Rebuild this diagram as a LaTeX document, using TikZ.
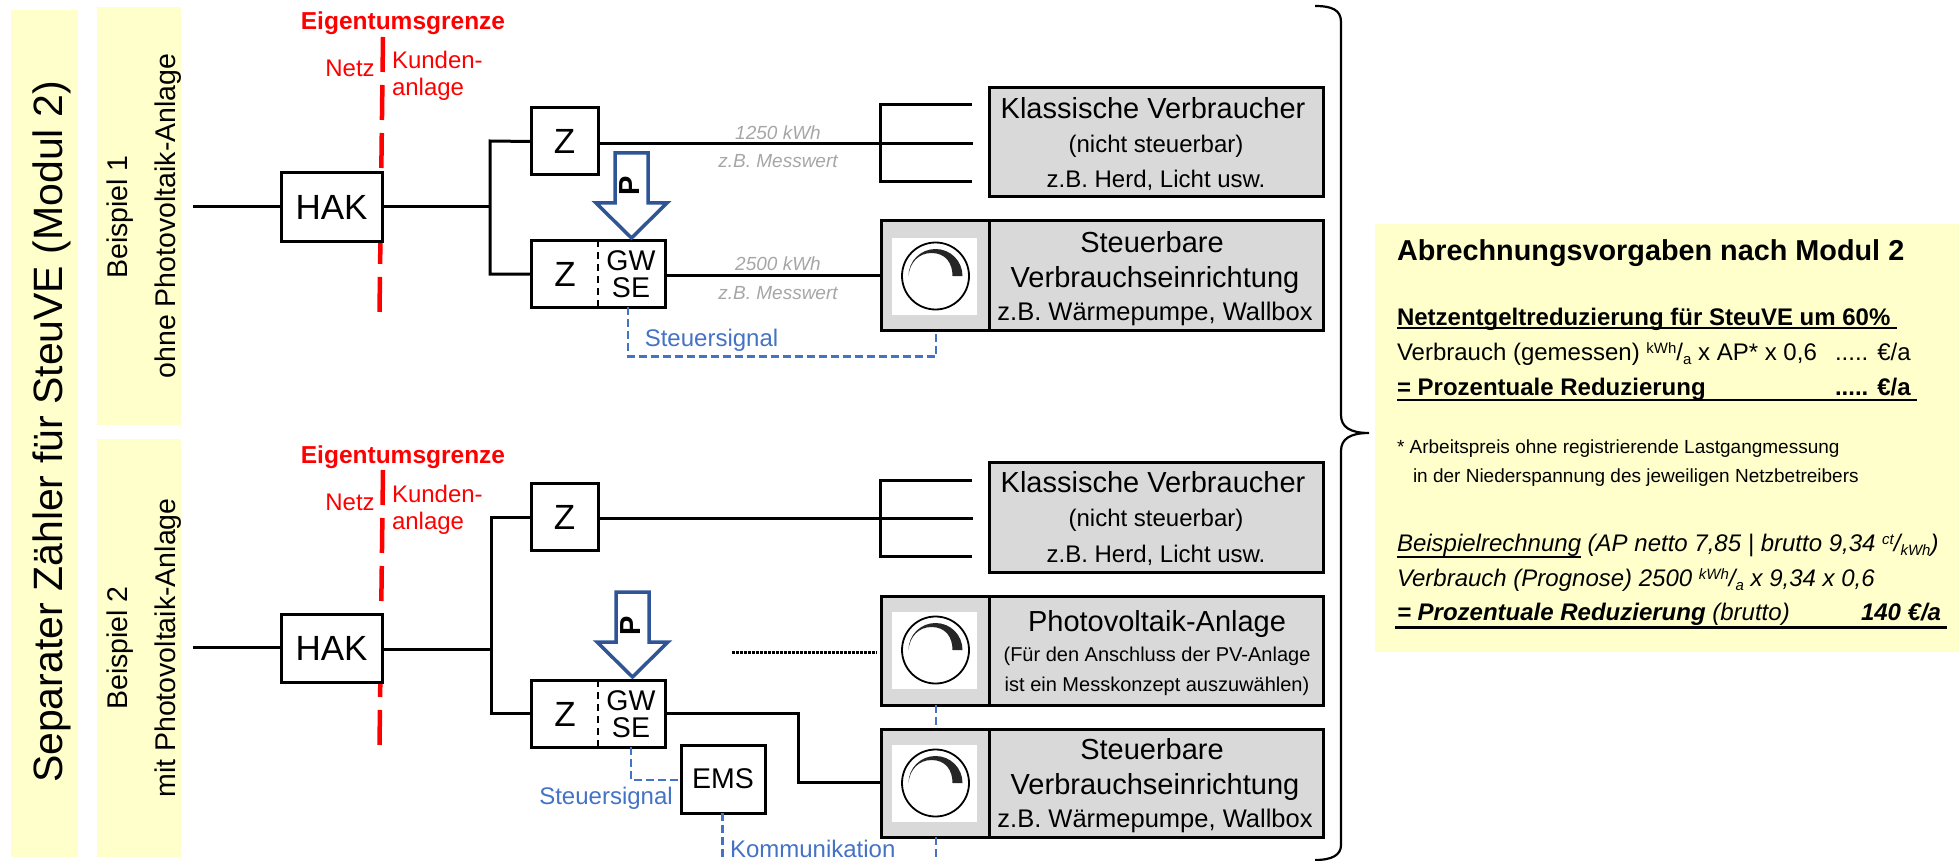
\documentclass[tikz,border=0pt]{standalone}
\usepackage{fontspec}
\setmainfont{Liberation Sans}
\usetikzlibrary{calc}
\definecolor{bandyellow}{HTML}{FFFFCC}
\definecolor{boxgray}{HTML}{D9D9D9}
\definecolor{sigblue}{HTML}{4472C4}
\definecolor{arrowblue}{HTML}{2F5597}
\definecolor{labelgray}{HTML}{A6A6A6}
\definecolor{gridred}{HTML}{FF0000}
\newcommand{\fsz}[1]{\fontsize{#1}{#1}\selectfont}
\newcommand{\ufrac}[2]{\raisebox{6.5pt}{\fsz{15}#1}/\raisebox{-4pt}{\fsz{15}#2}}
\newcommand{\knobsym}[2]{%
  \begin{scope}[shift={(#1,#2)}]
    \draw[black,line width=1.8pt] (0,0) circle[radius=33.5pt];
    \fill[black!85] (-27,0) .. controls (-27,-15) and (-15,-27) .. (0,-27) .. controls (15,-27) and (27,-15) .. (27,0) -- (17,0) .. controls (17,-13) and (10,-23) .. (-4,-23) .. controls (-17,-23) and (-26,-13) .. (-27,0) -- cycle;
  \end{scope}}
\tikzset{
  band/.style={draw=none,fill=bandyellow,inner sep=0pt,outer sep=0pt},
  wire/.style={draw=black,line width=3pt},
  sbox/.style={draw=black,fill=white,line width=3pt,inner sep=0pt,outer sep=0pt,font=\fsz{35}},
  graybox/.style={draw=black,fill=boxgray,line width=3pt,inner sep=0pt,outer sep=0pt},
  vs/.style={yshift={(-0.35*#1)*1pt}},
  fn/.style={font=\fsz{#1},vs=#1},
  fb/.style={font=\fsz{#1}\bfseries,vs=#1},
  fi/.style={font=\fsz{#1}\itshape,vs=#1},
  fbi/.style={font=\fsz{#1}\itshape\bfseries,vs=#1},
  txt/.style={inner sep=0pt,outer sep=0pt,anchor=base},
  txtl/.style={inner sep=0pt,outer sep=0pt,anchor=base west},
  vert/.style={inner sep=0pt,outer sep=0pt,rotate=90,anchor=base},
  redt/.style={text=gridred},
  redline/.style={draw=gridred,line width=4.5pt,dash pattern=on 35pt off 13pt},
  sig/.style={draw=sigblue,line width=2.5pt,dash pattern=on 8pt off 4pt},
  sigtext/.style={text=sigblue,fn=24},
  graytext/.style={txt,text=labelgray,fi=19},
  parrow/.style={draw=arrowblue,fill=white,line width=3.5pt,miter limit=10},
}
\begin{document}
\begin{tikzpicture}[x=1pt,y=-1pt]
\useasboundingbox (0,0) rectangle (1959,861);
% bands
\node[band,minimum width=67pt,minimum height=847pt] (bandL) at (44.5,433.5) {};
\node[band,minimum width=84pt,minimum height=418pt] (bandA) at (139,216) {};
\node[band,minimum width=84pt,minimum height=418pt] (bandB) at (139,648) {};
\node[band,minimum width=584pt,minimum height=428pt] (bandR) at (1667,438) {};
\node[vert,font=\fsz{41}] (title) at (62.5,432) {Separater Zähler für SteuVE (Modul 2)};
\node[vert,font=\fsz{28.5}] (b1a) at (127,217) {Beispiel 1};
\node[vert,font=\fsz{28.5}] (b1b) at (175,216) {ohne Photovoltaik-Anlage};
\node[vert,font=\fsz{28.5}] (b2a) at (127,648) {Beispiel 2};
\node[vert,font=\fsz{28.5}] (b2b) at (175,648) {mit Photovoltaik-Anlage};
% property borders
\coordinate (r1t) at (383,37); \coordinate (r1b) at (379.5,313);
\coordinate (r2t) at (383,470); \coordinate (r2b) at (379.5,746);
\draw[redline] (r1t) -- (r1b);
\draw[redline] (r2t) -- (r2b);
\node[txt,redt,fb=24.5] (eg1) at (403,21) {Eigentumsgrenze};
\node[txt,redt,fb=24.5] (eg2) at (403,455) {Eigentumsgrenze};
\node[txt,redt,fn=24] (nz1) at (350,68) {Netz};
\node[txtl,redt,fn=24] (ku1) at (392,60) {Kunden-};
\node[txtl,redt,fn=24] (an1) at (392,87) {anlage};
\node[txt,redt,fn=24] (nz2) at (350,502) {Netz};
\node[txtl,redt,fn=24] (ku2) at (392,494) {Kunden-};
\node[txtl,redt,fn=24] (an2) at (392,521) {anlage};
% boxes example 1
\node[sbox,minimum width=101pt,minimum height=68pt] (hak1) at (331.5,207) {HAK};
\node[sbox,minimum width=67pt,minimum height=67pt] (z1) at (564.5,141.5) {Z};
\node[sbox,minimum width=134pt,minimum height=67pt] (zg1) at (598,273.5) {};
\node[txt,fn=35] (z1t) at (565,274) {Z};
\node[txt,fn=28.5] (gw1) at (631,261) {GW};
\node[txt,fn=28.5] (se1) at (631,288) {SE};
\draw[black,line width=2.5pt,dash pattern=on 7pt off 5pt] (zg1.north) -- (zg1.south);
% boxes example 2
\node[sbox,minimum width=101pt,minimum height=68pt] (hak2) at (331.5,648) {HAK};
\node[sbox,minimum width=67pt,minimum height=67pt] (z2) at (564.5,517) {Z};
\node[sbox,minimum width=134pt,minimum height=67pt] (zg2) at (598,713.5) {};
\node[txt,fn=35] (z2t) at (565,714) {Z};
\node[txt,fn=28.5] (gw2) at (631,701) {GW};
\node[txt,fn=28.5] (se2) at (631,728) {SE};
\draw[black,line width=2.5pt,dash pattern=on 7pt off 5pt] (zg2.north) -- (zg2.south);
\node[sbox,minimum width=84pt,minimum height=68pt,font=\fsz{28.5}] (ems) at (723,779) {EMS};
% arrows P
\filldraw[parrow] (615,153) -- (648,153) -- (648,203) -- (667,203) -- (631.5,238) -- (596,203) -- (615,203) -- cycle;
\node[font=\fsz{29}\bfseries,rotate=90,inner sep=0pt] (p1) at (630,186) {P};
\filldraw[parrow] (616,592) -- (649,592) -- (649,642) -- (668,642) -- (632.5,677) -- (597,642) -- (616,642) -- cycle;
\node[font=\fsz{29}\bfseries,rotate=90,inner sep=0pt] (p2) at (631,626) {P};
% consumer boxes
\node[graybox,minimum width=334pt,minimum height=109pt] (kv1) at (1156.5,142.5) {};
\node[txt,fn=29] at (1153,108) (kv1a) {Klassische Verbraucher};
\node[txt,fn=24] at (1156,144) (kv1b) {(nicht steuerbar)};
\node[txt,fn=24] at (1156,179) (kv1c) {z.B. Herd, Licht usw.};
\node[graybox,minimum width=334pt,minimum height=110pt] (kv2) at (1156.5,517) {};
\node[txt,fn=29] at (1153,482) (kv2a) {Klassische Verbraucher};
\node[txt,fn=24] at (1156,518) (kv2b) {(nicht steuerbar)};
\node[txt,fn=24] at (1156,554) (kv2c) {z.B. Herd, Licht usw.};
\node[graybox,minimum width=442pt,minimum height=109pt] (sv1) at (1102.5,275.5) {};
\draw[black,line width=3pt] (989.5,221) -- (989.5,330);
\fill[white] (892,238) rectangle (977,315);
\knobsym{935.5}{276}
\node[txt,fn=29] at (1152,242) (sv1a) {Steuerbare};
\node[txt,fn=29] at (1155,277) (sv1b) {Verbrauchseinrichtung};
\node[txt,fn=25.5] at (1155,312) (sv1c) {z.B. Wärmepumpe, Wallbox};
\node[graybox,minimum width=442pt,minimum height=109pt] (pv) at (1102.5,650.5) {};
\draw[black,line width=3pt] (989.5,596) -- (989.5,705);
\fill[white] (892,612) rectangle (977,689);
\knobsym{935.5}{650}
\node[txt,fn=29] at (1157,621) (pva) {Photovoltaik-Anlage};
\node[txt,fn=20] at (1157,654) (pvb) {(Für den Anschluss der PV-Anlage};
\node[txt,fn=20] at (1157,684) (pvc) {ist ein Messkonzept auszuwählen)};
\node[graybox,minimum width=442pt,minimum height=108pt] (sv2) at (1102.5,783) {};
\draw[black,line width=3pt] (989.5,729) -- (989.5,837);
\fill[white] (892,745) rectangle (977,822);
\knobsym{935.5}{783}
\node[txt,fn=29] at (1152,749) (sv2a) {Steuerbare};
\node[txt,fn=29] at (1155,784) (sv2b) {Verbrauchseinrichtung};
\node[txt,fn=25.5] at (1155,819) (sv2c) {z.B. Wärmepumpe, Wallbox};
% wires example 1
\coordinate (in1) at (193,207); \coordinate (bm1) at (490,207);
\coordinate (bt1) at (490,141); \coordinate (bb1) at (490,274);
\coordinate (ft1) at (880,105); \coordinate (fm1) at (880,144); \coordinate (fb1) at (880,182);
\coordinate (st1) at (972,105); \coordinate (sm1) at (973,144); \coordinate (sb1) at (972,182);
\draw[wire] (in1) -- (hak1.west);
\draw[wire] (hak1.east) -- (bm1);
\draw[wire,line join=miter] (z1.west) -- (bt1) -- (bb1) -- (bb1 -| zg1.west);
\draw[wire] (z1.east |- sm1) -- (sm1);
\draw[wire] (st1) -- (ft1) -- (fb1) -- (sb1);
\draw[wire] (zg1.east |- sv1.west) -- (sv1.west);
% wires example 2
\coordinate (in2) at (193,647); \coordinate (bm2) at (491,649);
\coordinate (bt2) at (491,517); \coordinate (bb2) at (491,713);
\coordinate (ft2) at (880,480); \coordinate (fm2) at (880,518.5); \coordinate (fb2) at (880,556);
\coordinate (st2) at (972,480); \coordinate (sm2) at (973,518.5); \coordinate (sb2) at (972,556);
\coordinate (k1) at (798,713); \coordinate (k2) at (798,782);
\coordinate (dot1) at (732,652); \coordinate (dot2) at (877,652);
\draw[wire] (in2) -- (hak2.west |- in2);
\draw[wire] (hak2.east |- bm2) -- (bm2);
\draw[wire,line join=miter] (z2.west) -- (bt2) -- (bb2) -- (bb2 -| zg2.west);
\draw[wire] (z2.east |- sm2) -- (sm2);
\draw[wire] (st2) -- (ft2) -- (fb2) -- (sb2);
\draw[wire] (zg2.east |- k1) -- (k1) -- (k2) -- (sv2.west |- k2);
\draw[black,line width=3pt,dash pattern=on 2.5pt off 1.5pt] (dot1) -- (dot2);
% grey labels
\node[graytext] (g1) at (778,133) {1250 kWh};
\node[graytext] (g2) at (778,161) {z.B. Messwert};
\node[graytext] (g3) at (778,264) {2500 kWh};
\node[graytext] (g4) at (778,293) {z.B. Messwert};
% signals
\coordinate (s1a) at (628,356.5); \coordinate (s1b) at (936,356.5);
\draw[sig] (zg1.south -| s1a) -- (s1a) -- (s1b) -- (sv1.south -| s1b);
\coordinate (s2a) at (631,780);
\draw[sig] (zg2.south -| s2a) -- (s2a) -- (ems.west |- s2a);
\coordinate (e1) at (722.5,861); \coordinate (e2) at (936,861);
\draw[sig] (ems.south -| e1) -- (e1);
\draw[sig] (sv2.south -| e2) -- (e2);
\draw[sig] (pv.south -| e2) -- (sv2.north -| e2);
\node[txt,sigtext] (st1t) at (711.5,338) {Steuersignal};
\node[txt,sigtext] (st2t) at (606,796) {Steuersignal};
\node[txtl,sigtext] (kom) at (730,849) {Kommunikation};
% brace
\coordinate (br) at (1369,433);
\draw[black,line width=2.2pt] (1315,6) .. controls (1332,6) and (1341,10) .. (1341,22) -- (1341,415) .. controls (1341,427) and (1350,433) .. (br) .. controls (1350,433) and (1341,439) .. (1341,451) -- (1341,845) .. controls (1341,855) and (1332,860) .. (1315,860);
% right panel
\node[txtl,fb=28.8] (r1) at (1397,250) {Abrechnungsvorgaben nach Modul 2};
\node[txtl,fb=24] (r2) at (1397,317) {Netzentgeltreduzierung für SteuVE um 60\%};
\draw[black,line width=2pt] (1397,328) -- (1897,328);
\node[txtl,fn=24] (r3) at (1397,352) {Verbrauch (gemessen) \ufrac{kWh}{a} x AP* x 0,6};
\node[txtl,fn=24] (r3b) at (1835,352) {..... €/a};
\node[txtl,fb=24] (r4) at (1397,387) {= Prozentuale Reduzierung};
\node[txtl,fb=24] (r4b) at (1835,387) {..... €/a};
\draw[black,line width=2pt] (1397,400) -- (1917,400);
\node[txtl,fn=19] (r5) at (1397,447) {* Arbeitspreis ohne registrierende Lastgangmessung};
\node[txtl,fn=19] (r6) at (1413,476) {in der Niederspannung des jeweiligen Netzbetreibers};
\node[txtl,fi=24] (r7) at (1397,543) {Beispielrechnung (AP netto 7,85 | brutto 9,34 \ufrac{ct}{kWh})};
\draw[black,line width=1.5pt] (1397,557) -- (1581,557);
\node[txtl,fi=24] (r8) at (1397,578) {Verbrauch (Prognose) 2500 \ufrac{kWh}{a} x 9,34 x 0,6};
\node[txtl,fi=24] (r9) at (1397,612) {\bfseries = Prozentuale Reduzierung \mdseries (brutto)};
\node[txtl,fbi=24] (r9b) at (1861,612) {140 €/a};
\draw[black,line width=3pt] (1395,627) -- (1947,627);
\end{tikzpicture}
\end{document}
